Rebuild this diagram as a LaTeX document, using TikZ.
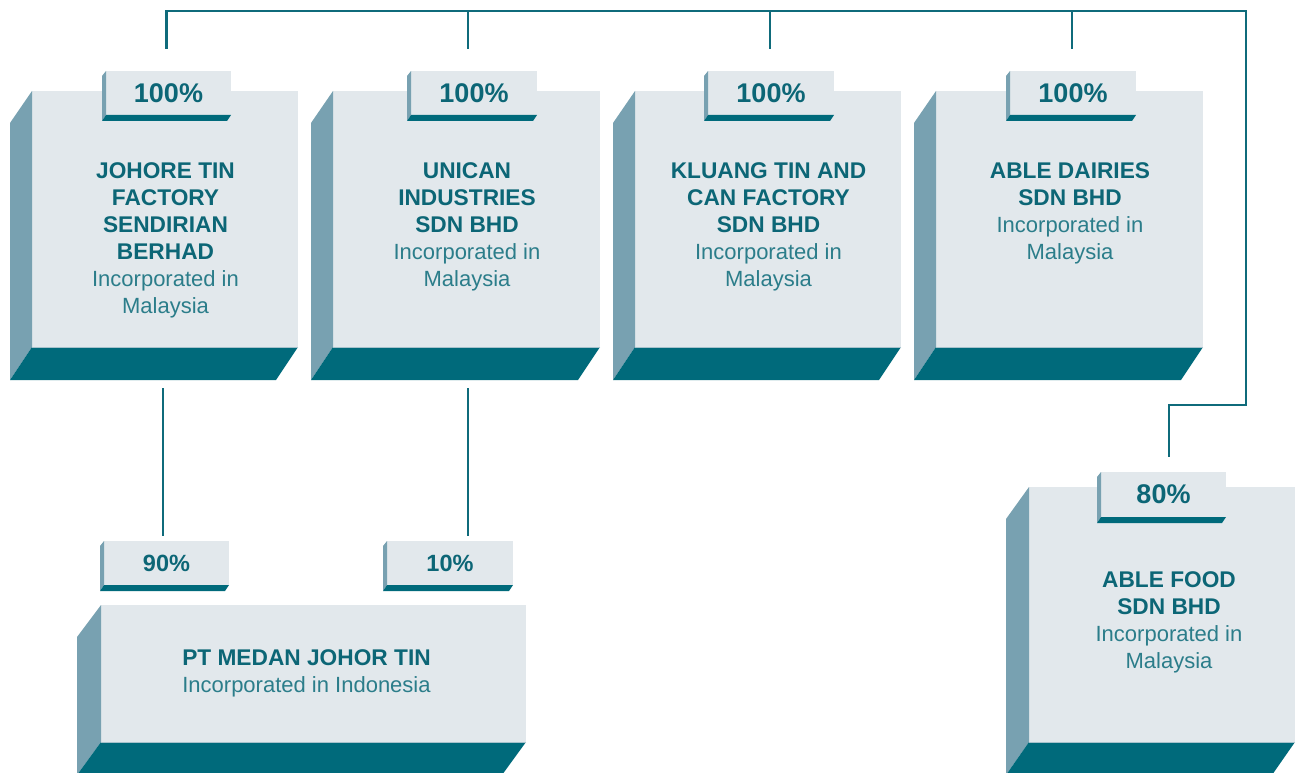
\documentclass[tikz,border=0pt]{standalone}
\usepackage{fontspec}
\setmainfont{Liberation Sans}
\definecolor{facec}{HTML}{E2E8EC}
\definecolor{sidec}{HTML}{78A1B1}
\definecolor{darkc}{HTML}{006A7B}
\definecolor{txtc}{HTML}{0C6676}
\definecolor{incc}{HTML}{2B7D8A}
\definecolor{linec}{HTML}{0F6B7B}
\definecolor{sepc}{HTML}{A6C2CC}
\newcommand\cname[1]{{\fontsize{22.7}{27}\selectfont\bfseries #1}}
\newcommand\cinc[1]{\textcolor{incc}{#1}}
\tikzset{
  face/.style={fill=facec, inner sep=0pt, outer sep=0pt, draw=none, rectangle},
  sidef/.style={fill=sidec},
  darkf/.style={fill=darkc},
  txt/.style={font=\fontsize{22}{27}\selectfont, align=center, inner sep=0pt, text=txtc},
  conn/.style={draw=linec, line width=2.2pt},
}
\newcommand\mkbox[6]{%
  \node[face, minimum width={#4-#2}, minimum height={#5-#3}, anchor=north west] (#1) at (#2,#3) {};
  \fill[sidef] (#1.north west) -- ++(-#6,32) -- ([shift={(-#6,33)}]#1.south west) -- (#1.south west) -- cycle;
  \fill[darkf] (#1.south west) -- (#1.south east) -- ++(-#6,33) -- ([shift={(-#6,33)}]#1.south west) -- cycle;
  \draw[sepc, line width=0.8pt] (#1.south west) -- (#1.south east);
}
\newcommand\mktag[7]{%
  \node[face, minimum width={#4-#2}, minimum height={#5-#3}, anchor=north west,
        font=\bfseries\fontsize{#6}{#6}\selectfont, text=txtc] (#1) at (#2,#3) {\raisebox{-2.5pt}{#7}};
  \fill[sidef] (#1.north west) -- ++(-4,5) -- ([shift={(-4,6)}]#1.south west) -- (#1.south west) -- cycle;
  \fill[darkf] (#1.south west) -- (#1.south east) -- ++(-4,6) -- ([shift={(-4,6)}]#1.south west) -- cycle;
}
\begin{document}
\begin{tikzpicture}[x=1pt,y=-1pt]
\useasboundingbox (0,0) rectangle (1302,773);

% main boxes, top row
\mkbox{j}{32}{91}{298}{347}{22}
\mkbox{u}{333}{91}{600}{347}{22}
\mkbox{k}{635}{91}{901}{347}{22}
\mkbox{ad}{936}{91}{1203}{347}{22}
% bottom row
\mkbox{pt}{101}{605}{526}{742}{24}
\mkbox{af}{1029}{487}{1295}{742}{23}

% percentage tags
\mktag{tj}{106}{71}{231}{115}{27}{100\%}
\mktag{tu}{411}{71}{537}{115}{27}{100\%}
\mktag{tk}{708}{71}{834}{115}{27}{100\%}
\mktag{tad}{1010}{71}{1136}{115}{27}{100\%}
\mktag{t90}{104}{541}{229}{585}{23.5}{90\%}
\mktag{t10}{387}{541}{513}{585}{23.5}{10\%}
\mktag{taf}{1101}{472}{1226}{517}{27}{80\%}

% texts
\node[txt, anchor=north] (j-t) at ([shift={(0.5,71)}]j.north)
  {\cname{JOHORE TIN}\\\cname{FACTORY}\\\cname{SENDIRIAN}\\\cname{BERHAD}\\\cinc{Incorporated in}\\\cinc{Malaysia}};
\node[txt, anchor=north] (u-t) at ([shift={(0.5,71)}]u.north)
  {\cname{UNICAN}\\\cname{INDUSTRIES}\\\cname{SDN BHD}\\\cinc{Incorporated in}\\\cinc{Malaysia}};
\node[txt, anchor=north] (k-t) at ([shift={(0.5,71)}]k.north)
  {\cname{KLUANG TIN AND}\\\cname{CAN FACTORY}\\\cname{SDN BHD}\\\cinc{Incorporated in}\\\cinc{Malaysia}};
\node[txt, anchor=north] (ad-t) at ([shift={(0.5,71)}]ad.north)
  {\cname{ABLE DAIRIES}\\\cname{SDN BHD}\\\cinc{Incorporated in}\\\cinc{Malaysia}};
\node[txt, anchor=north] (pt-t) at ([shift={(-7,44)}]pt.north)
  {\cname{PT MEDAN JOHOR TIN}\\\cinc{Incorporated in Indonesia}};
\node[txt, anchor=north] (af-t) at ([shift={(7,84)}]af.north)
  {\cname{ABLE FOOD}\\\cname{SDN BHD}\\\cinc{Incorporated in}\\\cinc{Malaysia}};

% connectors
\coordinate (busR) at (1246,11);
\coordinate (elbow) at (1169,405);
\coordinate (afin) at (1169,457);
\draw[conn] ([shift={(1.5,-42)}]j.north) |- (busR) |- (elbow) -- (afin);
\draw[conn] ([shift={(1.5,-42)}]u.north) -- ([shift={(1.5,-80)}]u.north);
\draw[conn] ([shift={(2,-42)}]k.north) -- ([shift={(2,-80)}]k.north);
\draw[conn] ([shift={(2.5,-42)}]ad.north) -- ([shift={(2.5,-80)}]ad.north);
\draw[conn] ([shift={(-2,41)}]j.south) -- ([shift={(-2,189)}]j.south);
\draw[conn] ([shift={(1.5,41)}]u.south) -- ([shift={(1.5,189)}]u.south);
\end{tikzpicture}
\end{document}
